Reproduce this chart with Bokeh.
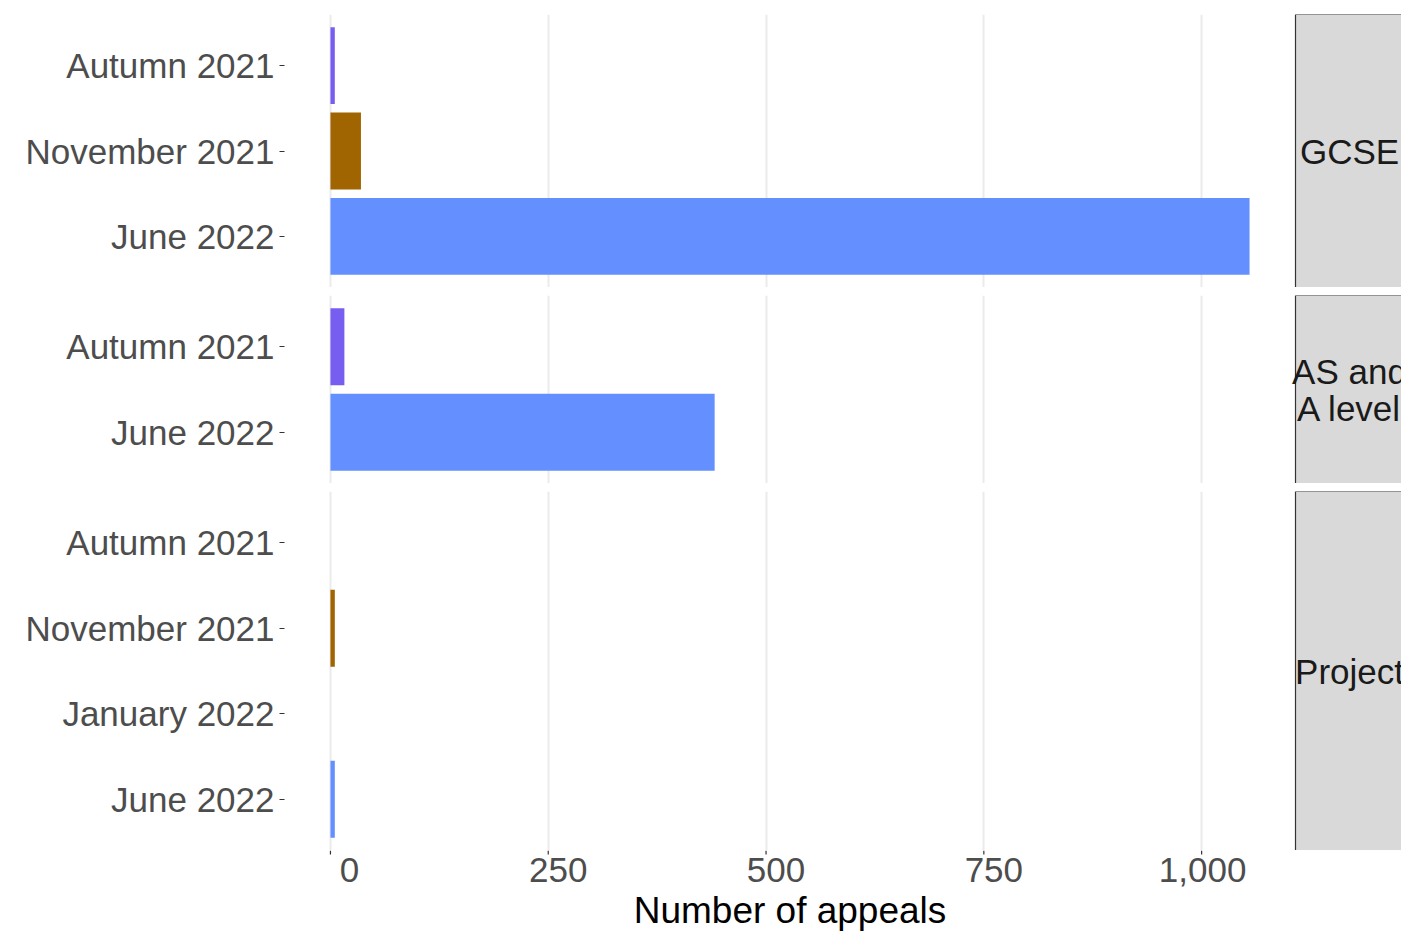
from bokeh.plotting import figure
from bokeh.layouts import column
from bokeh.models import Range1d, FixedTicker
from bokeh.core.properties import value
from bokeh.embed import file_html
from bokeh.resources import INLINE

# ---------------- data ----------------
facets = ["GCSE", "AS and\nA level", "Project"]

gcse_series = ["Autumn 2021", "November 2021", "June 2022"]
gcse_values = [5, 35, 1055]

alevel_series = ["Autumn 2021", "June 2022"]
alevel_values = [16, 441]

project_series = ["Autumn 2021", "November 2021", "January 2022", "June 2022"]
project_values = [0, 5, 0, 5]

series_colors = {
    "Autumn 2021": "#785EF0",
    "November 2021": "#A06400",
    "January 2022": "#DC267F",
    "June 2022": "#648FFF",
}

x_ticks = [0, 250, 500, 750, 1000]
x_tick_labels = ["0", "250", "500", "750", "1,000"]
x_title = "Number of appeals"

# ---------------- layout / style ----------------
FONT_NAME = "Liberation Sans"
FONT = value(FONT_NAME)
TOTAL_W = 1401
TOTAL_H = 932
LEFT = 284          # frame left edge
PANEL_PX = 1011     # width of the data panel (strip follows it)
FRAME_PX = TOTAL_W - LEFT
UNIT_PX = 85.4      # pixels per category band
TOP = 14
GAP = 8
STRIP_TEXT_DX = 54                    # px from strip left edge to text centre
tick_label_dx = [19, 10, 10, 10, 1]   # horizontal nudge of x tick labels (px)
TICK_LEN = 4
TICK_LABEL_CENTER = 19                # px below panel
TITLE_CENTER_FROM_BOTTOM = 22         # px above figure bottom

data_max = max(gcse_values + alevel_values + project_values)
x_lo = -0.05 * data_max
x_panel_hi = 1.05 * data_max
x_hi = x_lo + (x_panel_hi - x_lo) * FRAME_PX / PANEL_PX

panels = [
    (facets[0], gcse_series, gcse_values),
    (facets[1], alevel_series, alevel_values),
    (facets[2], project_series, project_values),
]

figs = []
used = 0
for i, (facet, series, vals) in enumerate(panels):
    n = len(series)
    frame_h = round((n - 1 + 1.2) * UNIT_PX)
    top_b = TOP if i == 0 else GAP
    fig_h = frame_h + top_b
    used += fig_h
    p = figure(
        width=TOTAL_W,
        height=fig_h,
        x_range=Range1d(x_lo, x_hi),
        y_range=Range1d(n - 1 + 0.6, -0.6),
        output_backend="svg",
        toolbar_location=None,
        x_axis_location=None,
        min_border_left=LEFT,
        min_border_right=0,
        min_border_top=top_b,
        min_border_bottom=0,
        outline_line_color=None,
        background_fill_color="white",
        border_fill_color="white",
    )
    # grid
    p.xgrid.ticker = FixedTicker(ticks=x_ticks)
    p.xgrid.grid_line_color = "#EBEBEB"
    p.xgrid.grid_line_width = 2
    p.ygrid.visible = False

    # bars
    ys = list(range(n))
    cols = [series_colors[s] for s in series]
    p.hbar(y=ys, left=0, right=vals, height=0.9, fill_color=cols, line_color=None)

    # strip
    p.quad(left=[x_panel_hi], right=[x_hi * 2], top=[-0.6], bottom=[n - 1 + 0.6],
           fill_color="#D9D9D9", line_color="#333333", line_width=1.2)
    lines = facet.split("\n")
    yc = (n - 1) / 2
    offs = [0] if len(lines) == 1 else [-18.5, 18.5]
    for line, off in zip(lines, offs):
        p.text(x=[x_panel_hi], y=[yc], text=[line], x_offset=STRIP_TEXT_DX, y_offset=off,
               text_align="center", text_baseline="middle", text_font=FONT,
               text_font_size="35px", text_color="#1A1A1A")

    # y axis
    ya = p.yaxis[0]
    ya.ticker = FixedTicker(ticks=ys)
    ya.major_label_overrides = {k: s for k, s in zip(ys, series)}
    ya.axis_line_color = None
    ya.major_tick_out = 5
    ya.major_tick_in = 0
    ya.minor_tick_out = 0
    ya.minor_tick_in = 0
    ya.major_tick_line_color = "#333333"
    ya.major_tick_line_width = 1.2
    ya.major_label_standoff = 5
    ya.major_label_text_font = FONT_NAME
    ya.major_label_text_font_size = "35px"
    ya.major_label_text_color = "#4D4D4D"
    figs.append(p)

# ---------------- x axis strip (ticks, tick labels, title) ----------------
axis_h = TOTAL_H - used
pa = figure(
    width=TOTAL_W,
    height=axis_h,
    x_range=figs[-1].x_range,
    y_range=Range1d(axis_h, 0),
    output_backend="svg",
    toolbar_location=None,
    x_axis_location=None,
    y_axis_location=None,
    min_border_left=LEFT,
    min_border_right=0,
    min_border_top=0,
    min_border_bottom=0,
    outline_line_color=None,
    background_fill_color="white",
    border_fill_color="white",
)
pa.grid.visible = False
pa.segment(x0=x_ticks, x1=x_ticks, y0=0, y1=TICK_LEN, line_color="#333333", line_width=1.2)
pa.text(x=x_ticks, y=TICK_LABEL_CENTER, text=x_tick_labels, x_offset=tick_label_dx,
        text_align="center", text_baseline="middle", text_font=FONT,
        text_font_size="35px", text_color="#4D4D4D")
pa.text(x=[(x_lo + x_panel_hi) / 2], y=[axis_h - TITLE_CENTER_FROM_BOTTOM], text=[x_title],
        text_align="center", text_baseline="middle", text_font=FONT,
        text_font_size="37px", text_color="#000000")
figs.append(pa)

layout = column(*figs, spacing=0)
open("out.html", "w").write(file_html(layout, INLINE))
